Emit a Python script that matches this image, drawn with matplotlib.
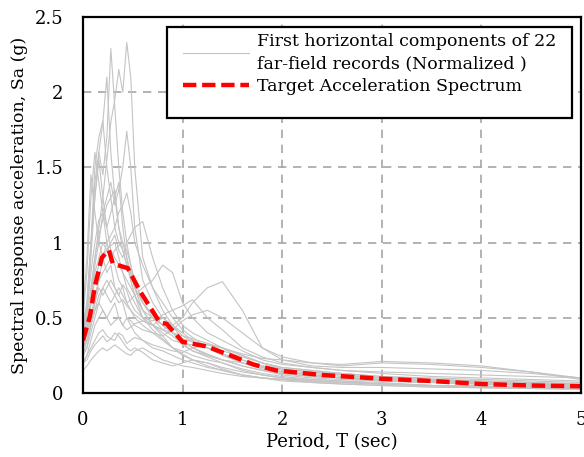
import matplotlib
matplotlib.use("Agg")
import matplotlib.pyplot as plt
from matplotlib.patches import Rectangle

# period grid shared by the 22 record spectra (sec)
periods = [0, 0.04, 0.08, 0.12, 0.16, 0.2, 0.24, 0.28, 0.32, 0.36, 0.4, 0.44, 0.48, 0.52, 0.6, 0.7,
           0.8, 0.9, 1.0, 1.1, 1.25, 1.4, 1.6, 1.8, 2.0, 2.3, 2.6, 3.0, 3.5, 4.0, 4.5, 5.0]

records = [
    [0.30, 0.42, 0.65, 0.90, 1.10, 1.30, 1.55, 1.80, 1.95, 2.15, 2.00, 2.33, 2.10, 1.50, 0.90, 0.70,
     0.55, 0.45, 0.35, 0.30, 0.25, 0.22, 0.18, 0.15, 0.12, 0.10, 0.09, 0.08, 0.07, 0.06, 0.05, 0.04],
    [0.35, 0.50, 0.90, 1.30, 1.60, 1.45, 1.70, 2.29, 1.90, 1.50, 1.20, 1.00, 0.85, 0.70, 0.55, 0.50,
     0.45, 0.40, 0.33, 0.28, 0.24, 0.20, 0.16, 0.13, 0.11, 0.09, 0.08, 0.07, 0.05, 0.045, 0.04, 0.03],
    [0.40, 0.55, 0.95, 1.40, 1.60, 1.80, 2.10, 1.60, 1.30, 1.10, 1.00, 0.90, 0.75, 0.65, 0.55, 0.45,
     0.38, 0.30, 0.26, 0.22, 0.18, 0.15, 0.12, 0.10, 0.09, 0.07, 0.06, 0.05, 0.04, 0.035, 0.03, 0.025],
    [0.45, 0.60, 1.00, 1.50, 1.70, 1.81, 1.50, 1.30, 1.35, 1.10, 0.95, 0.85, 0.80, 0.70, 0.60, 0.52,
     0.45, 0.40, 0.35, 0.30, 0.26, 0.22, 0.18, 0.15, 0.13, 0.11, 0.10, 0.08, 0.07, 0.06, 0.05, 0.045],
    [0.30, 0.40, 0.60, 0.85, 1.00, 1.20, 1.30, 1.40, 1.25, 1.35, 1.50, 1.74, 1.50, 1.10, 0.75, 0.60,
     0.50, 0.45, 0.40, 0.35, 0.30, 0.25, 0.20, 0.18, 0.16, 0.14, 0.12, 0.10, 0.08, 0.07, 0.06, 0.05],
    [0.50, 0.80, 1.30, 1.60, 1.40, 1.20, 1.00, 0.90, 0.85, 0.75, 0.70, 0.60, 0.55, 0.50, 0.45, 0.40,
     0.35, 0.30, 0.25, 0.22, 0.20, 0.17, 0.14, 0.12, 0.10, 0.08, 0.07, 0.06, 0.05, 0.04, 0.035, 0.03],
    [0.40, 0.60, 1.00, 1.30, 1.55, 1.30, 1.10, 1.20, 1.30, 1.40, 1.10, 0.90, 0.80, 0.70, 0.60, 0.50,
     0.42, 0.38, 0.32, 0.28, 0.25, 0.22, 0.20, 0.17, 0.14, 0.12, 0.10, 0.09, 0.08, 0.07, 0.06, 0.05],
    [0.25, 0.30, 0.45, 0.60, 0.75, 0.90, 1.00, 1.05, 1.10, 1.20, 1.25, 1.33, 1.20, 1.00, 0.85, 0.70,
     0.60, 0.50, 0.42, 0.37, 0.30, 0.26, 0.22, 0.18, 0.15, 0.13, 0.11, 0.09, 0.08, 0.07, 0.06, 0.05],
    [0.30, 0.40, 0.60, 0.80, 0.90, 1.00, 0.95, 1.00, 1.05, 0.95, 0.90, 1.00, 1.05, 1.10, 1.14, 0.90,
     0.70, 0.55, 0.45, 0.40, 0.35, 0.30, 0.25, 0.20, 0.17, 0.15, 0.13, 0.11, 0.10, 0.09, 0.08, 0.07],
    [0.25, 0.30, 0.40, 0.50, 0.60, 0.70, 0.65, 0.60, 0.65, 0.70, 0.65, 0.60, 0.62, 0.65, 0.70, 0.75,
     0.85, 0.80, 0.60, 0.50, 0.40, 0.35, 0.28, 0.22, 0.19, 0.17, 0.15, 0.14, 0.13, 0.12, 0.11, 0.10],
    [0.20, 0.25, 0.35, 0.45, 0.50, 0.55, 0.50, 0.45, 0.48, 0.50, 0.45, 0.42, 0.44, 0.46, 0.48, 0.45,
     0.42, 0.45, 0.50, 0.60, 0.70, 0.74, 0.55, 0.30, 0.22, 0.18, 0.17, 0.17, 0.16, 0.15, 0.13, 0.10],
    [0.15, 0.18, 0.22, 0.25, 0.28, 0.30, 0.28, 0.30, 0.32, 0.30, 0.28, 0.26, 0.25, 0.28, 0.30, 0.26,
     0.22, 0.20, 0.18, 0.17, 0.15, 0.13, 0.11, 0.10, 0.09, 0.08, 0.07, 0.06, 0.05, 0.045, 0.04, 0.035],
    [0.20, 0.25, 0.30, 0.35, 0.40, 0.42, 0.38, 0.36, 0.35, 0.40, 0.38, 0.33, 0.35, 0.37, 0.35, 0.32,
     0.30, 0.28, 0.27, 0.30, 0.32, 0.30, 0.22, 0.17, 0.14, 0.12, 0.10, 0.09, 0.08, 0.07, 0.06, 0.05],
    [0.30, 0.35, 0.45, 0.55, 0.60, 0.55, 0.50, 0.55, 0.60, 0.50, 0.45, 0.50, 0.48, 0.45, 0.42, 0.40,
     0.38, 0.42, 0.48, 0.52, 0.55, 0.50, 0.40, 0.30, 0.24, 0.20, 0.18, 0.20, 0.19, 0.17, 0.14, 0.10],
    [0.35, 0.45, 0.60, 0.75, 0.85, 0.90, 0.95, 0.98, 1.00, 0.90, 0.80, 0.75, 0.70, 0.65, 0.55, 0.45,
     0.40, 0.35, 0.33, 0.32, 0.30, 0.28, 0.24, 0.20, 0.17, 0.15, 0.13, 0.11, 0.09, 0.08, 0.07, 0.06],
    [0.40, 0.55, 0.80, 1.00, 1.15, 1.20, 1.10, 0.95, 0.90, 0.85, 0.80, 0.70, 0.65, 0.60, 0.50, 0.42,
     0.36, 0.30, 0.28, 0.25, 0.22, 0.20, 0.15, 0.12, 0.10, 0.09, 0.08, 0.06, 0.05, 0.045, 0.04, 0.035],
    [0.55, 0.90, 1.45, 1.20, 1.00, 0.90, 0.80, 0.85, 0.70, 0.65, 0.60, 0.50, 0.45, 0.40, 0.35, 0.30,
     0.28, 0.25, 0.22, 0.20, 0.17, 0.15, 0.12, 0.10, 0.08, 0.07, 0.06, 0.05, 0.04, 0.035, 0.03, 0.025],
    [0.30, 0.40, 0.50, 0.60, 0.70, 0.65, 0.70, 0.75, 0.70, 0.65, 0.72, 0.68, 0.60, 0.55, 0.50, 0.48,
     0.52, 0.55, 0.58, 0.62, 0.50, 0.42, 0.30, 0.24, 0.20, 0.17, 0.15, 0.13, 0.11, 0.10, 0.09, 0.08],
    [0.20, 0.22, 0.28, 0.32, 0.35, 0.38, 0.34, 0.36, 0.40, 0.38, 0.34, 0.30, 0.28, 0.30, 0.27, 0.22,
     0.20, 0.18, 0.20, 0.22, 0.20, 0.16, 0.12, 0.10, 0.09, 0.08, 0.07, 0.06, 0.05, 0.045, 0.04, 0.03],
    [0.35, 0.50, 0.70, 0.90, 1.05, 1.15, 1.25, 1.30, 1.10, 1.00, 0.95, 0.85, 0.75, 0.65, 0.50, 0.45,
     0.50, 0.45, 0.38, 0.34, 0.30, 0.26, 0.20, 0.16, 0.13, 0.11, 0.10, 0.08, 0.07, 0.06, 0.05, 0.04],
    [0.30, 0.35, 0.45, 0.55, 0.65, 0.70, 0.75, 0.70, 0.65, 0.60, 0.62, 0.58, 0.55, 0.52, 0.48, 0.45,
     0.42, 0.40, 0.38, 0.36, 0.33, 0.30, 0.26, 0.23, 0.22, 0.20, 0.19, 0.21, 0.20, 0.18, 0.14, 0.09],
    [0.25, 0.35, 0.50, 0.65, 0.75, 0.80, 0.85, 0.90, 0.95, 0.98, 1.00, 0.95, 0.85, 0.75, 0.60, 0.52,
     0.45, 0.40, 0.36, 0.34, 0.32, 0.30, 0.25, 0.20, 0.16, 0.14, 0.12, 0.10, 0.09, 0.08, 0.07, 0.06],
]

target_T = [0, 0.07, 0.12, 0.19, 0.26, 0.30, 0.45, 0.57, 0.77, 0.84, 1.0, 1.24, 1.48, 1.71, 1.94,
            2.4, 3.0, 3.5, 4.0, 4.5, 5.0]
target_Sa = [0.35, 0.51, 0.71, 0.90, 0.95, 0.86, 0.83, 0.68, 0.47, 0.46, 0.34, 0.31, 0.25, 0.19, 0.15,
             0.12, 0.095, 0.08, 0.06, 0.05, 0.045]

plt.rcParams['font.family'] = ['DejaVu Serif']
plt.rcParams['font.size'] = 13

fig = plt.figure(figsize=(5.84, 4.57), dpi=100)
ax = fig.add_axes([0.142, 0.140, 0.853, 0.823])

for i, rec in enumerate(records):
    ax.plot(periods, rec, color='#c4c4c4', linewidth=0.8,
            label='First horizontal components of 22\nfar-field records (Normalized )' if i == 0 else None)

ax.plot(target_T, target_Sa, color='#ff0000', linewidth=3.2, dashes=(3.0, 1.3),
        label='Target Acceleration Spectrum')

ax.set_xlim(0, 5)
ax.set_ylim(0, 2.5)
ax.set_xticks([0, 1, 2, 3, 4, 5])
ax.set_yticks([0, 0.5, 1, 1.5, 2, 2.5])
ax.set_yticklabels(['0', '0.5', '1', '1.5', '2', '2.5'])
ax.grid(True, color='#a6a6a6', linestyle=(0, (5, 4)), linewidth=1.2)
ax.tick_params(axis='y', length=0, pad=14)
ax.tick_params(axis='x', length=0, pad=13)

for side in ['top', 'bottom', 'left', 'right']:
    ax.spines[side].set_linewidth(1.6)
    ax.spines[side].set_color('black')

ax.set_xlabel('Period, T (sec)', labelpad=3)
ax.set_ylabel('Spectral response acceleration, Sa (g)', fontsize=12.5, labelpad=5)

# legend box as drawn in the original (extra room under the entries)
box = Rectangle((0.169, 0.731), 0.813, 0.242, transform=ax.transAxes, facecolor='white',
                edgecolor='black', linewidth=1.6, zorder=4)
ax.add_patch(box)
leg = ax.legend(loc='upper left', bbox_to_anchor=(0.201, 0.958), frameon=False, fontsize=12.5,
                handlelength=3.8, handletextpad=0.45, borderpad=0, labelspacing=0.3,
                borderaxespad=0)
for t in leg.get_texts():
    t.set_linespacing(1.45)
leg.set_zorder(5)

fig.savefig('out.png', dpi=100)
